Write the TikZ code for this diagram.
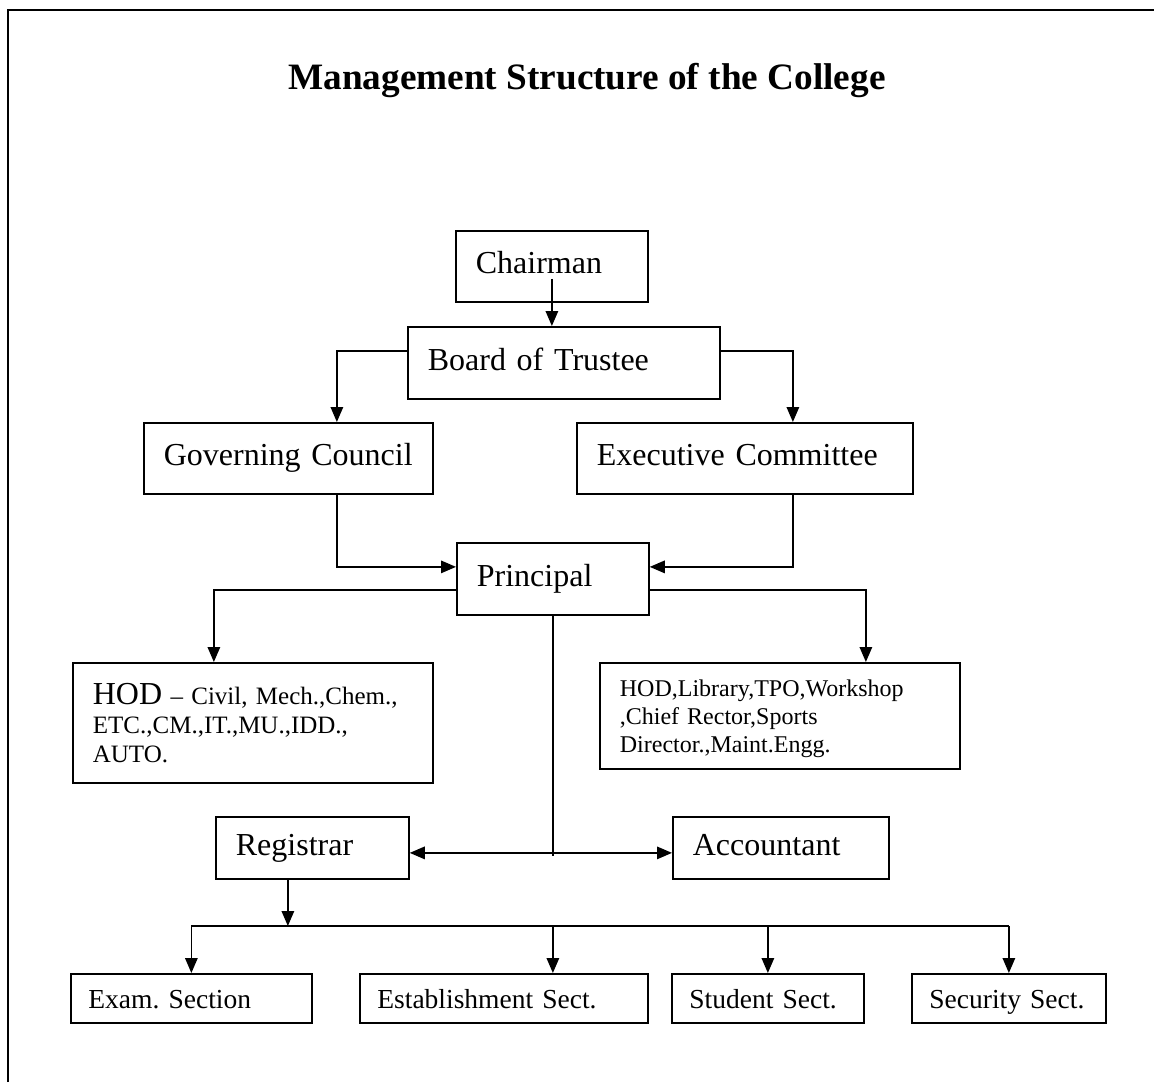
\documentclass[tikz,border=0pt]{standalone}
\usepackage{fontspec}
\setmainfont{Liberation Serif}
\usetikzlibrary{arrows.meta}

\tikzset{
	box/.style 2 args={draw, line width=0.7pt, anchor=north west, inner xsep=8pt, align=left,
		text width=#1, minimum height=#2, font=\fontsize{12.8}{15}\selectfont,
		text height=9pt, text depth=3.2pt},
	sect/.style 2 args={box={#1}{#2}, inner xsep=7pt, font=\fontsize{11}{13}\selectfont,
		text height=9.2pt, text depth=1.2pt},
	listbox/.style 2 args={draw, line width=0.7pt, anchor=north west, inner xsep=8pt, align=left,
		text width=#1, minimum height=#2},
	link/.style={line width=0.6pt}
}

\begin{document}
\frenchspacing
\begin{tikzpicture}[x=0.4pt, y=-0.4pt, >={Triangle[length=6pt,width=5pt]}]
	\useasboundingbox (0,0) rectangle (1154,1082);
	\draw [link] (8,1082) -- (8,10) -- (1154,10);

	\node [font=\bfseries\fontsize{14.9}{18}\selectfont] (title) at (587,80) {Management Structure of the College};

	%top of the tree
	\node [box={60.8pt}{28.4pt}] (chair) at (455,230) {Chairman};
	\node [box={108.8pt}{28.8pt}] (board) at (407,326) {Board of Trustee};
	\node [box={99.6pt}{28.4pt}] (gc) at (143,422) {Governing Council};
	\node [box={118.4pt}{28.4pt}] (ec) at (576,422) {Executive Committee};
	\node [box={60.8pt}{28.8pt}] (prin) at (456,542) {Principal};

	\node [listbox={128pt}{48pt}, font=\fontsize{10}{11.6}\selectfont] (hod) at (72,662)
		{{\fontsize{12.8}{11.6}\selectfont HOD} – Civil, Mech.,Chem.,\\ETC.,CM.,IT.,MU.,IDD.,\\AUTO.};
	\node [listbox={128pt}{42.4pt}, font=\fontsize{9.6}{11.2}\selectfont] (heads) at (599,662)
		{\rule{0pt}{9pt}HOD,Library,TPO,Workshop\\,Chief Rector,Sports\\Director.,Maint.Engg.};

	\node [box={61.2pt}{24.8pt}] (reg) at (215,816) {Registrar};
	\node [box={70.4pt}{24.8pt}] (acc) at (672,816) {Accountant};

	%sections under the registrar
	\node [sect={82.4pt}{19.6pt}] (exam) at (70,973) {Exam. Section};
	\node [sect={101.2pt}{19.6pt}] (estab) at (359,973) {Establishment Sect.};
	\node [sect={62.8pt}{19.6pt}] (stud) at (671,973) {Student Sect.};
	\node [sect={63.6pt}{19.6pt}] (secu) at (911,973) {Security Sect.};

	%connectors
	\draw [link,->] ([yshift=9.6pt]chair.south) -- (chair.south |- board.north);
	\draw [link,->] ([yshift=4.8pt]board.west) -| ([xshift=19.4pt]gc.north);
	\draw [link,->] ([yshift=4.8pt]board.east) -| ([xshift=19.2pt]ec.north);
	\draw [link,->] ([xshift=19.4pt]gc.south) |- ([yshift=4.8pt]prin.west);
	\draw [link,->] ([xshift=19.2pt]ec.south) |- ([yshift=4.8pt]prin.east);
	\draw [link,->] ([yshift=-4.4pt]prin.west) -| ([xshift=-15.6pt]hod.north);
	\draw [link,->] ([yshift=-4.4pt]prin.east) -| ([xshift=34.4pt]heads.north);

	\coordinate (split) at (prin.south |- reg.east);
	\draw [link] (prin.south) -- ([yshift=-3.2pt]split);
	\draw [link,<->] ([yshift=-2pt]reg.east) -- ([yshift=-2pt]acc.west);

	\coordinate (regout) at ([xshift=-9.8pt]reg.south);
	\coordinate (bus) at (287,926);
	\draw [link,->] (regout) -- (regout |- bus);
	\draw [link] (exam.north |- bus) -- (secu.north |- bus);
	\foreach \n in {exam,stud,secu}
		\draw [link,->] (\n.north |- bus) -- (\n.north);
	\draw [link,->] (prin.south |- bus) -- (prin.south |- estab.north);

\end{tikzpicture}
\end{document}
